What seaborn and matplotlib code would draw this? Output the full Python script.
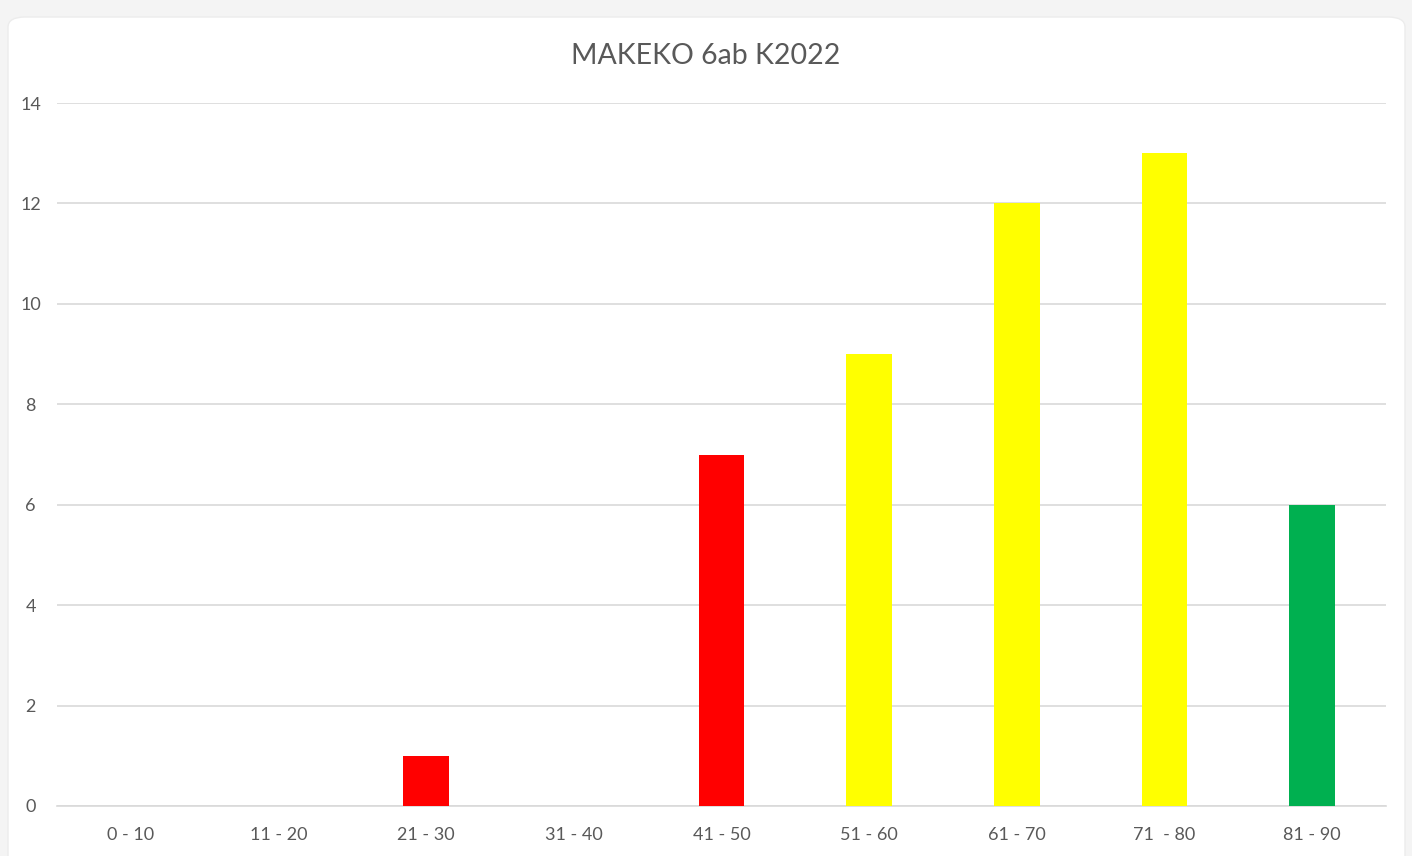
import matplotlib
matplotlib.use("Agg")
import matplotlib.pyplot as plt
import seaborn as sns
import pandas as pd
from matplotlib.patches import FancyBboxPatch

categories = ["0 - 10", "11 - 20", "21 - 30", "31 - 40", "41 - 50", "51 - 60", "61 - 70", "71  - 80", "81 - 90"]
values = [0, 0, 1, 0, 7, 9, 12, 13, 6]
bar_colors = ["#FF0000", "#FF0000", "#FF0000", "#FF0000", "#FF0000", "#FFFF00", "#FFFF00", "#FFFF00", "#00B050"]
title = "MAKEKO 6ab K2022"
yticks = [0, 2, 4, 6, 8, 10, 12, 14]

sns.set_theme(style="white")
plt.rcParams['font.family'] = ['Lato', 'DejaVu Sans']

df = pd.DataFrame({"cat": categories, "val": values})

fig = plt.figure(figsize=(14.12, 8.56), dpi=100)
fig.patch.set_facecolor("#f4f4f4")
card = FancyBboxPatch((8/1412, -0.05), (1405-8)/1412, 1.05 - 17/856,
                      boxstyle="round,pad=0,rounding_size=0.012",
                      transform=fig.transFigure, facecolor="white", edgecolor="#ececec", lw=1, zorder=-10)
fig.patches.append(card)

ax = fig.add_axes([57/1412, 1 - 806/856, (1386-57)/1412, (806-103)/856])
ax.set_zorder(5)
ax.set_facecolor("none")
sns.barplot(data=df, x="cat", y="val", hue="cat", palette=bar_colors, legend=False,
            width=0.31, saturation=1, linewidth=0, ax=ax, zorder=3)

ax.set_ylim(0, 14)
ax.set_yticks(yticks)
ax.yaxis.grid(True, color="#d9d9d9", lw=1.2, zorder=0)
ax.set_axisbelow(True)
for s in ["top", "right", "left"]:
    ax.spines[s].set_visible(False)
ax.spines["bottom"].set_color("#d9d9d9")
ax.spines["bottom"].set_linewidth(1.2)
ax.tick_params(axis="both", length=0, labelsize=13, labelcolor="#595959")
ax.tick_params(axis="y", pad=19)
ax.tick_params(axis="x", pad=15)
for lab in ax.get_yticklabels():
    lab.set_horizontalalignment("center")
ax.set_xlabel("")
ax.set_ylabel("")
ax.set_xlim(-0.5, 8.5)
fig.text(706/1412, 1 - 56/856, title, ha="center", va="center", fontsize=20.5, color="#595959")

fig.savefig("out.png", dpi=100, facecolor=fig.get_facecolor())
